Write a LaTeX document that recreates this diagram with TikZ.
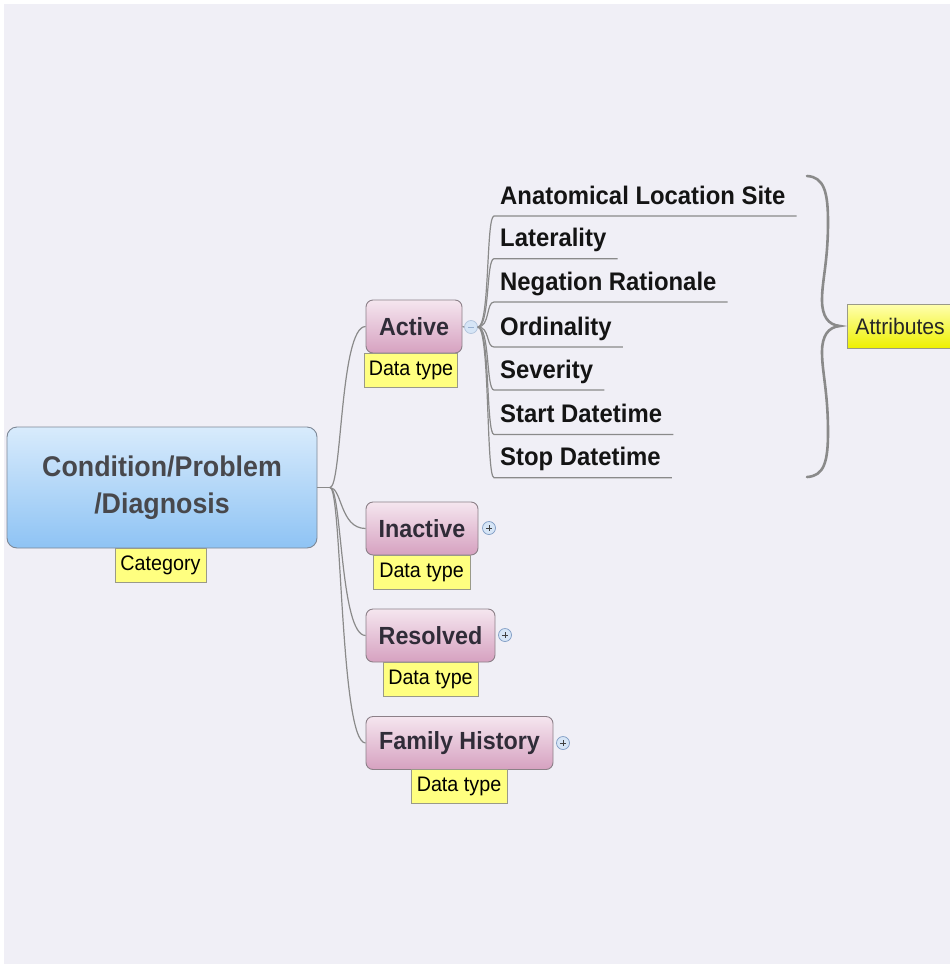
\documentclass[tikz,border=0pt]{standalone}
\usepackage{fontspec}
\setmainfont{Liberation Sans}
\newfontfamily\condsans[FakeStretch=0.94]{Liberation Sans}
\usetikzlibrary{calc}

\definecolor{bgpane}{HTML}{F0EFF6}
\definecolor{roottop}{HTML}{D8EBFC}
\definecolor{rootbot}{HTML}{8EC3F4}
\definecolor{rootedge}{HTML}{7D8896}
\definecolor{roottext}{HTML}{48484C}
\definecolor{pinktop}{HTML}{F5E6EF}
\definecolor{pinkbot}{HTML}{D6A1C0}
\definecolor{topicedge}{HTML}{8C8088}
\definecolor{topictext}{HTML}{302C38}
\definecolor{tagfill}{HTML}{FFFF80}
\definecolor{tagedge}{HTML}{9A9A88}
\definecolor{tagtop}{HTML}{FFFFB0}
\definecolor{tagbot}{HTML}{EEF000}
\definecolor{linkgray}{HTML}{8A8A8A}
\definecolor{knobfill}{HTML}{D6E5F6}
\definecolor{knobedge}{HTML}{7F9CC4}

\begin{document}
\begin{tikzpicture}[x=1pt,y=-1pt,
  rootbox/.style={draw=rootedge, line width=0.9pt, rounded corners=10pt,
    top color=roottop, bottom color=rootbot, minimum width=310pt,
    minimum height=121pt, align=center, text=roottext,
    font=\condsans\fontsize{28.5}{37}\selectfont\bfseries},
  topicbox/.style={draw=topicedge, line width=0.9pt, rounded corners=7pt,
    top color=pinktop, bottom color=pinkbot, minimum height=53pt,
    text=topictext, font=\condsans\fontsize{24.8}{28}\selectfont\bfseries},
  tagbox/.style={draw=tagedge, line width=0.8pt, fill=tagfill,
    minimum height=34pt, inner xsep=4pt, text=black,
    font=\condsans\fontsize{21}{24}\selectfont},
  attrtag/.style={draw=tagedge, line width=0.8pt, top color=tagtop,
    bottom color=tagbot, minimum height=44pt, inner xsep=8pt,
    text=black!85, font=\condsans\fontsize{22.5}{26}\selectfont},
  attr/.style={anchor=base west, inner xsep=0pt, text=black!92,
    font=\condsans\fontsize{25.4}{28}\selectfont\bfseries},
  link/.style={draw=linkgray, line width=1.2pt},
  knob/.style={circle, draw=knobedge, fill=knobfill, line width=0.7pt,
    minimum size=13pt, inner sep=0pt},
  plusknob/.style={knob, path picture={
    \draw[black!75, line width=0.9pt]
      ($(path picture bounding box.center)+(-3,0)$) -- ++(6,0)
      ($(path picture bounding box.center)+(0,-3)$) -- ++(0,6);}},
  minusknob/.style={knob, minimum size=13pt, draw=knobedge!60, path picture={
    \draw[knobedge!80, line width=0.8pt]
      ($(path picture bounding box.center)+(-3,0)$) -- ++(6,0);}},
  bracestyle/.style={draw=linkgray, line width=2.6pt, line cap=round}
]
\useasboundingbox (0,0) rectangle (950,964);
\clip (0,0) rectangle (950,964);

% page background
\fill[white] (0,0) rectangle (950,964);
\fill[bgpane] (4,4) rectangle (950,964);

% central topic
\node[rootbox] (root) at (162,487.5) {Condition/Problem\\/Diagnosis};
\node[tagbox, minimum width=91pt] (cat) at (160.5,565) {Category};

% main topics
\node[topicbox, minimum width=96pt]  (active)   at (414,326.5) {Active};
\node[tagbox, minimum width=92pt]    (dtact)    at (411,370)   {Data type};
\node[topicbox, minimum width=112pt] (inactive) at (422,528.5) {Inactive};
\node[tagbox, minimum width=97pt]    (dtina)    at (421.5,572) {Data type};
\node[topicbox, minimum width=129pt] (resolved) at (430.5,635.5) {Resolved};
\node[tagbox, minimum width=95pt]    (dtres)    at (430.5,679.5) {Data type};
\node[topicbox, minimum width=187pt] (family)   at (459.5,743) {Family History};
\node[tagbox, minimum width=96pt]    (dtfam)    at (459,786.5) {Data type};

% expand / collapse knobs
\node[minusknob] (colact) at (471,327) {};
\node[plusknob]  (expina) at (489,528) {};
\node[plusknob]  (expres) at (505,635) {};
\node[plusknob]  (expfam) at (563,743) {};

% links from the central topic
\coordinate (hub) at (330,487.5);
\draw[link] (root.east) -- (hub);
\foreach \t in {active,inactive,resolved,family}{
  \draw[link] (hub) .. controls (342,487.5) and (340,0 |- \t.west) .. (\t.west);
}
\draw[link] (active.east) -- (colact.west);

% attribute subtopics
\node[attr] (a1) at (500,204)   {Anatomical Location Site};
\node[attr] (a2) at (500,246.7) {Laterality};
\node[attr] (a3) at (500,290)   {Negation Rationale};
\node[attr] (a4) at (500,335)   {Ordinality};
\node[attr] (a5) at (500,378)   {Severity};
\node[attr] (a6) at (500,422.5) {Start Datetime};
\node[attr] (a7) at (500,465.7) {Stop Datetime};

\foreach \a in {a1,a2,a3,a4,a5,a6,a7}{
  \coordinate (\a s) at ($(\a.base west)+(-6,12)$);
  \coordinate (\a e) at ($(\a.base east)+(11,12)$);
  \draw[link] (colact.east) .. controls (490,327) and (486,0 |- \a s)
    .. (\a s) -- (\a e);
}

% curly brace grouping the attributes
\draw[bracestyle]
  (807,176) .. controls (824,177) and (828,192) .. (828,222)
  .. controls (828,262) and (822,280) .. (822,300)
  .. controls (822,316) and (828,325) .. (840,326)
  .. controls (828,327) and (822,336) .. (822,352)
  .. controls (822,372) and (828,392) .. (828,432)
  .. controls (828,462) and (824,476) .. (807,477);
\node[attrtag, anchor=west] (attrs) at (847,326) {Attributes};
\end{tikzpicture}
\end{document}
